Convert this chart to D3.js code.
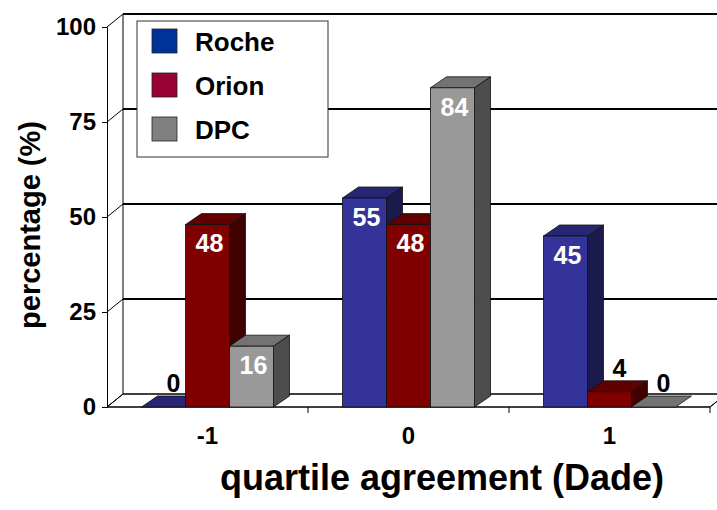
<!DOCTYPE html>
<html><head><meta charset="utf-8">
<script src="https://cdn.jsdelivr.net/npm/d3@7"></script>
<style>body{margin:0;background:#fff}svg{display:block}text{font-family:"Liberation Sans",Arial,sans-serif;font-weight:bold}</style>
</head><body>
<script>
const categories = ["-1", "0", "1"];
const seriesNames = ["Roche", "Orion", "DPC"];
const roche = [0, 55, 45];
const orion = [48, 48, 4];
const dpc = [16, 84, 0];
const yTicks = [0, 25, 50, 75, 100];

const W = 717, H = 510;
const svg = d3.select("body").append("svg").attr("width", W).attr("height", H);

const x0 = 107, x1 = 710, yBase = 407, yTop = 27;
const wdx = 16, wdy = -13;   // wall depth
const bdx = 16, bdy = -11;   // bar depth
const y = d3.scaleLinear().domain([0, 100]).range([yBase, yTop]);
const xc = d3.scaleBand().domain(categories).range([x0, x1]);
const barW = 44;
const xs = d3.scaleBand().domain(seriesNames).range([0, barW * 3]);

const front = ["#333399", "#800000", "#999999"];
const topC = ["#262673", "#600000", "#737373"];
const sideC = ["#1a1a4d", "#400000", "#4d4d4d"];
const legendC = ["#003399", "#990033", "#808080"];

// floor
svg.append("path")
  .attr("d", `M${x0},${yBase}L${x1},${yBase}L${x1 + wdx},${yBase + wdy}L${x0 + wdx},${yBase + wdy}Z`)
  .attr("fill", "#fff").attr("stroke", "#000").attr("stroke-width", 1);
svg.append("line").attr("x1", x1).attr("y1", yBase).attr("x2", x1 + wdx).attr("y2", yBase + wdy).attr("stroke", "#000");

// back wall gridlines and left wall slants
yTicks.forEach(v => {
  svg.append("line").attr("x1", x0 + wdx).attr("x2", W + 5)
    .attr("y1", y(v) + wdy).attr("y2", y(v) + wdy)
    .attr("stroke", "#000").attr("stroke-width", v === 0 ? 1 : 2);
  svg.append("line").attr("x1", x0).attr("y1", y(v)).attr("x2", x0 + wdx).attr("y2", y(v) + wdy)
    .attr("stroke", "#000").attr("stroke-width", 1);
});
svg.append("line").attr("x1", x0 + wdx).attr("x2", x0 + wdx)
  .attr("y1", y(0) + wdy).attr("y2", y(100) + wdy).attr("stroke", "#000");

// front y axis
const yAxis = d3.axisLeft(y).tickValues(yTicks).tickSize(5).tickPadding(6);
const ga = svg.append("g").attr("transform", `translate(${x0},0)`).call(yAxis);
ga.select(".domain").attr("stroke", "#000");
ga.selectAll(".tick line").attr("stroke", "#000");
ga.selectAll(".tick text").attr("font-size", 24).attr("fill", "#000")
  .attr("font-family", "Liberation Sans, Arial, sans-serif").attr("font-weight", "bold");

// front x axis
const xAxis = d3.axisBottom(xc).tickSize(0).tickPadding(20);
const gx = svg.append("g").attr("transform", `translate(0,${yBase})`).call(xAxis);
gx.select(".domain").remove();
gx.selectAll(".tick text").attr("font-size", 24).attr("fill", "#000")
  .attr("font-family", "Liberation Sans, Arial, sans-serif").attr("font-weight", "bold");
[x0 + xc.step(), x0 + 2 * xc.step(), x1].forEach(t => {
  svg.append("line").attr("x1", t).attr("x2", t).attr("y1", yBase).attr("y2", yBase + 6).attr("stroke", "#000");
});
svg.append("line").attr("x1", x0).attr("x2", x1).attr("y1", yBase).attr("y2", yBase).attr("stroke", "#000");

// bars
const series = [roche, orion, dpc];
const bars = [];
categories.forEach((c, ci) => {
  seriesNames.forEach((s, si) => {
    bars.push({ c, ci, si, v: series[si][ci] });
  });
});
const gb = svg.append("g");
bars.forEach(b => {
  const left = xc(b.c) + (xc.bandwidth() - barW * 3) / 2 + xs(seriesNames[b.si]);
  const right = left + barW;
  const ty = y(b.v), by = y(0);
  const g = gb.append("g");
  g.append("path").attr("d", `M${left},${ty}L${left + bdx},${ty + bdy}L${right + bdx},${ty + bdy}L${right},${ty}Z`)
    .attr("fill", topC[b.si]).attr("stroke", "#111").attr("stroke-width", 0.8);
  if (b.v > 0) {
    g.append("path").attr("d", `M${right},${ty}L${right + bdx},${ty + bdy}L${right + bdx},${by + bdy}L${right},${by}Z`)
      .attr("fill", sideC[b.si]).attr("stroke", "#111").attr("stroke-width", 0.8);
    g.append("rect").attr("x", left).attr("y", ty).attr("width", barW).attr("height", by - ty)
      .attr("fill", front[b.si]).attr("stroke", "#111").attr("stroke-width", 0.8);
  }
  b.left = left; b.ty = ty;
});
// value labels
bars.forEach(b => {
  const inside = b.v >= 10;
  const t = svg.append("text").text(b.v).attr("font-size", 25).attr("text-anchor", "middle");
  if (inside) {
    t.attr("x", b.left + barW / 2 + 2).attr("y", b.ty + 19).attr("dy", "0.35em").attr("fill", "#fff");
  } else {
    t.attr("x", b.left + barW / 2 + bdx / 2 + 2).attr("y", b.ty - 24).attr("dy", "0.35em").attr("fill", "#000");
  }
});

// legend
const lg = svg.append("g");
lg.append("rect").attr("x", 137).attr("y", 21).attr("width", 191).attr("height", 136)
  .attr("fill", "#fff").attr("stroke", "#333").attr("stroke-width", 1);
seriesNames.forEach((s, i) => {
  lg.append("rect").attr("x", 152).attr("y", 29 + i * 44).attr("width", 25).attr("height", 24)
    .attr("fill", legendC[i]).attr("stroke", "#222").attr("stroke-width", 0.8);
  lg.append("text").attr("x", 195).attr("y", 42 + i * 44).attr("dy", "0.35em")
    .attr("font-size", 26).attr("fill", "#000").text(s);
});

// axis titles
svg.append("text").attr("x", 442).attr("y", 490).attr("text-anchor", "middle")
  .attr("font-size", 36).attr("fill", "#000").text("quartile agreement (Dade)");
svg.append("text").attr("transform", "translate(40,225) rotate(-90)").attr("text-anchor", "middle")
  .attr("font-size", 29).attr("fill", "#000").text("percentage (%)");
</script>
</body></html>
